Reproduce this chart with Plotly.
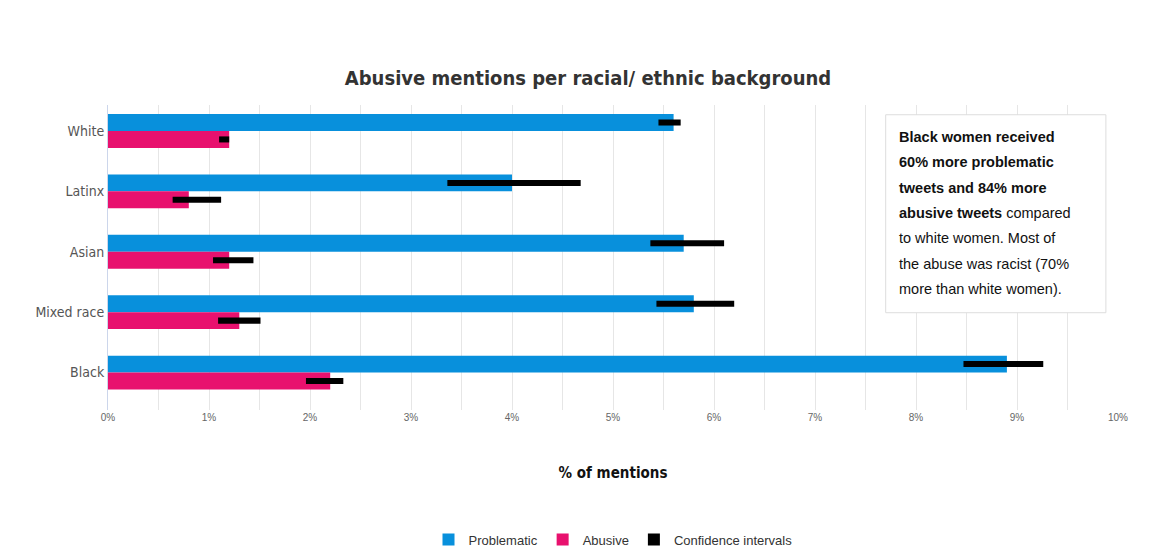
import plotly.graph_objects as go

groups = ["White", "Latinx", "Asian", "Mixed race", "Black"]
problematic = [5.6, 4.0, 5.7, 5.8, 8.9]
abusive = [1.2, 0.8, 1.2, 1.3, 2.2]
prob_ci_low = [5.45, 3.36, 5.37, 5.43, 8.47]
prob_ci_high = [5.67, 4.68, 6.10, 6.20, 9.26]
abus_ci_low = [1.10, 0.64, 1.04, 1.09, 1.96]
abus_ci_high = [1.20, 1.12, 1.44, 1.51, 2.33]
x_ticks = [0, 1, 2, 3, 4, 5, 6, 7, 8, 9, 10]
note_lines = ["<b>Black women received</b>", "<b>60% more problematic</b>",
              "<b>tweets and 84% more</b>", "<b>abusive tweets</b> compared",
              "to white women. Most of", "the abuse was racist (70%",
              "more than white women)."]

pos = list(range(len(groups)))
bar_w = 0.28
ci_w = 0.1
narrow = "DejaVu Sans Condensed, Roboto Condensed, Roboto, sans-serif"

fig = go.Figure()
fig.add_trace(go.Bar(y=pos, x=problematic, orientation="h", name="Problematic",
                     width=bar_w, offset=-bar_w, marker_color="#0890dc",
                     marker_line_width=0))
fig.add_trace(go.Bar(y=pos, x=abusive, orientation="h", name="Abusive",
                     width=bar_w, offset=0, marker_color="#e8116e",
                     marker_line_width=0))
fig.add_trace(go.Bar(y=pos, base=prob_ci_low,
                     x=[h - l for h, l in zip(prob_ci_high, prob_ci_low)],
                     orientation="h", name="Confidence intervals",
                     width=ci_w, offset=-bar_w / 2 - ci_w / 2,
                     marker_color="black", marker_line_width=0))
fig.add_trace(go.Bar(y=pos, base=abus_ci_low,
                     x=[h - l for h, l in zip(abus_ci_high, abus_ci_low)],
                     orientation="h", name="Confidence intervals",
                     showlegend=False, width=ci_w, offset=bar_w / 2 - ci_w / 2,
                     marker_color="black", marker_line_width=0))

# note box
fig.add_shape(type="rect", xref="paper", yref="paper", x0=0.770, x1=0.988,
              y0=0.319, y1=0.968, fillcolor="white",
              line=dict(color="#ddd", width=1), layer="above")
for i, line in enumerate(note_lines):
    fig.add_annotation(xref="paper", yref="paper", x=0.781,
                       y=(410 - (130 + 26 * i)) / 313, xanchor="left",
                       yanchor="middle", showarrow=False, text=line,
                       font=dict(size=14.5, color="#111"))

fig.update_layout(
    width=1160, height=558, barmode="overlay",
    plot_bgcolor="white", paper_bgcolor="white",
    margin=dict(l=100, r=50, t=97, b=148),
    font=dict(family="Liberation Sans", color="#333"),
    title=dict(text="<b>Abusive mentions per racial/ ethnic background</b>",
               x=0.5, xanchor="center", y=0.875, yanchor="middle",
               font=dict(family=narrow, size=20, color="#333")),
    xaxis=dict(range=[0, 10], tickvals=x_ticks,
               ticktext=[f"{v}%" for v in x_ticks],
               showgrid=True, gridcolor="#e6e6e6",
               minor=dict(dtick=0.5, showgrid=True, gridcolor="#e6e6e6"),
               tickfont=dict(size=10, color="#666"), zeroline=False,
               title=dict(text="<b>% of mentions</b>", standoff=45,
                          font=dict(family=narrow, size=15, color="#111"))),
    yaxis=dict(range=[4.62, -0.43], tickvals=pos, ticktext=groups,
               showgrid=False, zeroline=False, showline=True,
               linecolor="#ccd6eb", ticks="", ticklen=0,
               tickfont=dict(family=narrow, size=14, color="#555")),
    legend=dict(orientation="h", x=0.5, xanchor="center", y=-0.425,
                yanchor="middle", font=dict(size=13, color="#333"),
                itemwidth=30, traceorder="normal"),
)

fig.write_html("out.html")
